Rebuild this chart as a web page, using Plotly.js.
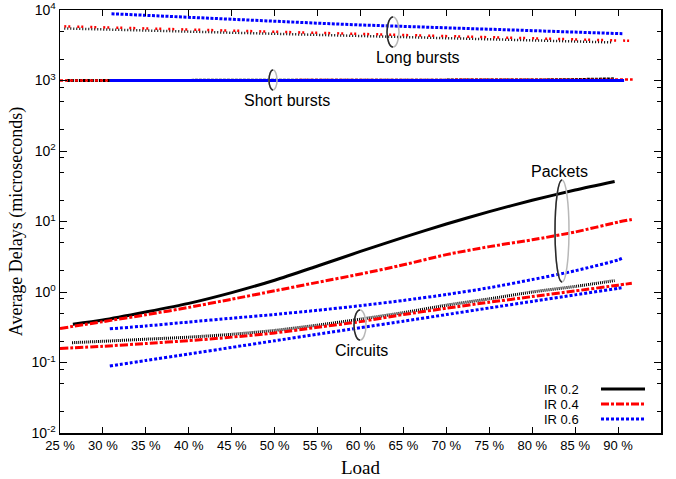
<!DOCTYPE html>
<html>
<head>
<meta charset="utf-8">
<script src="https://cdn.plot.ly/plotly-3.0.1.min.js"></script>
<style>html,body{margin:0;padding:0;background:#fff;}#chart{width:676px;height:479px;}</style>
</head>
<body>
<div id="chart"></div>
<script>
// ---------- data (Load in %, delays in microseconds) ----------
const seriesNames = ["IR 0.2", "IR 0.4", "IR 0.6"];

// Long bursts
const loadLongIR02 = [25.5, 30, 35, 40, 45, 50, 55, 60, 65, 70, 75, 80, 85, 89.4];
const delayLongIR02 = [5480, 5310, 5120, 4940, 4770, 4600, 4440, 4280, 4130, 3985, 3845, 3710, 3580, 3470];
const loadLongIR04 = [25.5, 30, 35, 40, 45, 50, 55, 60, 65, 70, 75, 80, 85, 90, 91.5];
const delayLongIR04 = [5860, 5675, 5475, 5285, 5100, 4920, 4745, 4580, 4420, 4265, 4115, 3970, 3830, 3695, 3655];
const loadLongIR06 = [31, 35, 40, 45, 50, 55, 60, 65, 70, 75, 80, 85, 90, 90.5];
const delayLongIR06 = [8850, 8375, 7820, 7300, 6900, 6500, 6135, 5890, 5610, 5345, 5095, 4855, 4635, 4610];

// Short bursts
const loadShortIR02 = [25.8, 30, 40, 50, 60, 70, 80, 85, 89.5];
const delayShortIR02 = [1000, 1000, 1000, 1002, 1005, 1008, 1015, 1030, 1055];
const loadShortIR04 = [25, 30, 40, 50, 60, 70, 80, 90, 91.7];
const delayShortIR04 = [1000, 1002, 1005, 1008, 1012, 1016, 1020, 1025, 1030];
const loadShortIR06 = [30.8, 40, 50, 60, 70, 80, 90, 90.7];
const delayShortIR06 = [1000, 1000, 1000, 1000, 1001, 1002, 1003, 1003];

// Packets
const loadPktIR02 = [26.5, 30, 35, 40, 45, 50, 55, 60, 65, 70, 75, 80, 85, 89.6];
const delayPktIR02 = [0.35, 0.40, 0.52, 0.69, 0.98, 1.47, 2.34, 3.76, 5.96, 9.2, 13.8, 20.0, 27.9, 36.9];
const loadPktIR04 = [25, 30, 35, 40, 45, 50, 55, 60, 65, 70, 75, 80, 85, 90, 91.6];
const delayPktIR04 = [0.304, 0.38, 0.475, 0.605, 0.79, 1.04, 1.37, 1.8, 2.43, 3.39, 4.4, 5.5, 7.1, 9.8, 10.7];
const loadPktIR06 = [30.8, 35, 40, 45, 50, 55, 60, 65, 70, 75, 80, 85, 90, 90.6];
const delayPktIR06 = [0.30, 0.33, 0.375, 0.425, 0.48, 0.55, 0.64, 0.76, 0.92, 1.15, 1.5, 2.0, 2.85, 3.05];

// Circuits
const loadCircIR02 = [26.4, 30, 35, 40, 45, 50, 55, 60, 65, 70, 75, 80, 85, 89.6];
const delayCircIR02 = [0.191, 0.20, 0.214, 0.229, 0.251, 0.285, 0.339, 0.412, 0.51, 0.65, 0.80, 1.0, 1.2, 1.45];
const loadCircIR04 = [25, 30, 35, 40, 45, 50, 55, 60, 65, 70, 75, 80, 85, 90, 91.6];
const delayCircIR04 = [0.158, 0.17, 0.186, 0.204, 0.229, 0.263, 0.316, 0.38, 0.479, 0.589, 0.716, 0.861, 1.035, 1.25, 1.33];
const loadCircIR06 = [30.8, 35, 40, 45, 50, 55, 60, 65, 70, 75, 80, 85, 90, 90.6];
const delayCircIR06 = [0.089, 0.107, 0.132, 0.164, 0.203, 0.252, 0.312, 0.386, 0.479, 0.593, 0.735, 0.91, 1.127, 1.156];

const xTickValues = [25, 30, 35, 40, 45, 50, 55, 60, 65, 70, 75, 80, 85, 90, 95];
const yTickValues = [0.01, 0.1, 1, 10, 100, 1000, 10000];
const yTickLabels = ['10<sup>-2</sup>', '10<sup>-1</sup>', '10<sup>0</sup>', '10<sup>1</sup>',
                     '10<sup>2</sup>', '10<sup>3</sup>', '10<sup>4</sup>'];

// ---------- styles ----------
const BLACK = '#000000', RED = '#ff0000', BLUE = '#0000ff';
const styleSolid = {color: BLACK, width: 3, dash: 'solid'};
const styleDashDot = {color: RED, width: 3, dash: '8px,2px,3px,2px'};
const styleDot = {color: BLUE, width: 3, dash: '3px,2px'};

function tr(x, y, line, name) {
  return {x: x, y: y, type: 'scatter', mode: 'lines', name: name, line: line,
          showlegend: false, hoverinfo: 'x+y'};
}
function smooth(style) { return Object.assign({shape: 'spline', smoothing: 0.7}, style); }

const traces = [
  // long bursts
  tr(loadLongIR02, delayLongIR02, {color: BLACK, width: 2.5, dash: '1px,2px'}, seriesNames[0]),
  tr(loadLongIR04, delayLongIR04, {color: RED, width: 2.5, dash: '2px,2px,2px,7px'}, seriesNames[1]),
  tr(loadLongIR06, delayLongIR06, {color: BLUE, width: 3, dash: '3px,1.5px'}, seriesNames[2]),
  // short bursts
  tr(loadShortIR02, delayShortIR02, {color: BLACK, width: 3, dash: '3px,1px'}, seriesNames[0]),
  tr(loadShortIR04, delayShortIR04, {color: RED, width: 2.5, dash: '3px,2px'}, seriesNames[1]),
  tr(loadShortIR06, delayShortIR06, {color: BLUE, width: 3, dash: 'solid'}, seriesNames[2]),
  // packets
  tr(loadPktIR02, delayPktIR02, smooth(styleSolid), seriesNames[0]),
  tr(loadPktIR04, delayPktIR04, smooth(styleDashDot), seriesNames[1]),
  tr(loadPktIR06, delayPktIR06, smooth(styleDot), seriesNames[2]),
  // circuits
  tr(loadCircIR02, delayCircIR02, smooth({color: BLACK, width: 3, dash: '1px,1px'}), seriesNames[0]),
  tr(loadCircIR04, delayCircIR04, smooth(styleDashDot), seriesNames[1]),
  tr(loadCircIR06, delayCircIR06, smooth(styleDot), seriesNames[2])
];

// minor ticks at 2, 5, 8 within each decade
const minorY = [];
[0.01, 0.1, 1, 10, 100, 1000].forEach(function (d) {
  minorY.push(2 * d, 5 * d);
  if (d < 1000) minorY.push(8 * d);
});

// ---------- decoration helpers (paper coords from plot pixels) ----------
const PL = 60, PR = 661, PT = 10, PB = 433;
function fx(px) { return (px - PL) / (PR - PL); }
function fy(py) { return (PB - py) / (PB - PT); }

const shapes = [];
const annotations = [];

function ellipse(cx, cy, rx, ry) {
  shapes.push({type: 'circle', xref: 'paper', yref: 'paper',
    x0: fx(cx - rx), x1: fx(cx + rx), y0: fy(cy + ry), y1: fy(cy - ry),
    line: {color: '#b8b8b8', width: 1.5}});
  const k = 0.5523;
  const p = function (x, y) { return fx(x).toFixed(5) + ',' + fy(y).toFixed(5); };
  const path = 'M' + p(cx, cy - ry) +
    ' C' + p(cx - k * rx, cy - ry) + ' ' + p(cx - rx, cy - k * ry) + ' ' + p(cx - rx, cy) +
    ' C' + p(cx - rx, cy + k * ry) + ' ' + p(cx - k * rx, cy + ry) + ' ' + p(cx, cy + ry);
  shapes.push({type: 'path', xref: 'paper', yref: 'paper', path: path,
    line: {color: '#2a2a2a', width: 1.5}});
}
function label(text, cx, cy) {
  annotations.push({text: text, xref: 'paper', yref: 'paper', x: fx(cx), y: fy(cy),
    xanchor: 'center', yanchor: 'middle', showarrow: false,
    font: {family: 'Liberation Sans, Arial, sans-serif', size: 16, color: '#000'}});
}

ellipse(273, 80, 4, 10);   label('Short bursts', 287, 101);
ellipse(393, 32, 6, 15);   label('Long bursts', 418, 57);
ellipse(562, 231, 7, 51);  label('Packets', 559, 171);
ellipse(360, 325, 6, 15);  label('Circuits', 361, 350);

// key (text left, sample right as in the reference)
const keyStyles = [styleSolid, styleDashDot, styleDot];
const keyRows = [389, 404, 419];
seriesNames.forEach(function (n, i) {
  annotations.push({text: n, xref: 'paper', yref: 'paper', x: fx(581), y: fy(keyRows[i]),
    xanchor: 'right', yanchor: 'middle', showarrow: false,
    font: {family: 'Liberation Sans, Arial, sans-serif', size: 13, color: '#000'}});
  shapes.push({type: 'line', xref: 'paper', yref: 'paper',
    x0: fx(601), x1: fx(645), y0: fy(keyRows[i]), y1: fy(keyRows[i]),
    line: {color: keyStyles[i].color, width: 3, dash: keyStyles[i].dash}});
});

const layout = {
  width: 676, height: 479,
  margin: {l: PL, r: 676 - PR, t: PT, b: 479 - PB},
  paper_bgcolor: '#ffffff', plot_bgcolor: '#ffffff',
  showlegend: false,
  font: {family: 'Liberation Sans, Arial, sans-serif', size: 13, color: '#000'},
  xaxis: {
    range: [25, 95], tickmode: 'array', tickvals: xTickValues,
    ticktext: xTickValues.map(function (v) { return v + ' %'; }),
    ticks: 'inside', ticklen: 6, tickwidth: 1, tickcolor: '#000',
    showline: true, linecolor: '#000', linewidth: 1.5, mirror: 'ticks',
    showgrid: false, zeroline: false,
    tickfont: {family: 'Liberation Sans, Arial, sans-serif', size: 13},
    title: {text: 'Load', standoff: 8,
      font: {family: 'Liberation Serif, Times New Roman, serif', size: 19}}
  },
  yaxis: {
    type: 'log', range: [-2, 4],
    tickmode: 'array', tickvals: yTickValues, ticktext: yTickLabels,
    ticks: 'inside', ticklen: 7, tickwidth: 1, tickcolor: '#000',
    minor: {tickmode: 'array', tickvals: minorY, ticks: 'inside', ticklen: 4, tickwidth: 1, tickcolor: '#000', showgrid: false},
    showline: true, linecolor: '#000', linewidth: 1.5, mirror: 'ticks',
    showgrid: false, zeroline: false,
    tickfont: {family: 'Liberation Sans, Arial, sans-serif', size: 14},
    title: {text: 'Average Delays (microseconds)', standoff: 4,
      font: {family: 'Liberation Serif, Times New Roman, serif', size: 18}}
  },
  shapes: shapes,
  annotations: annotations
};

Plotly.newPlot('chart', traces, layout, {displayModeBar: false, staticPlot: true});
</script>
</body>
</html>
